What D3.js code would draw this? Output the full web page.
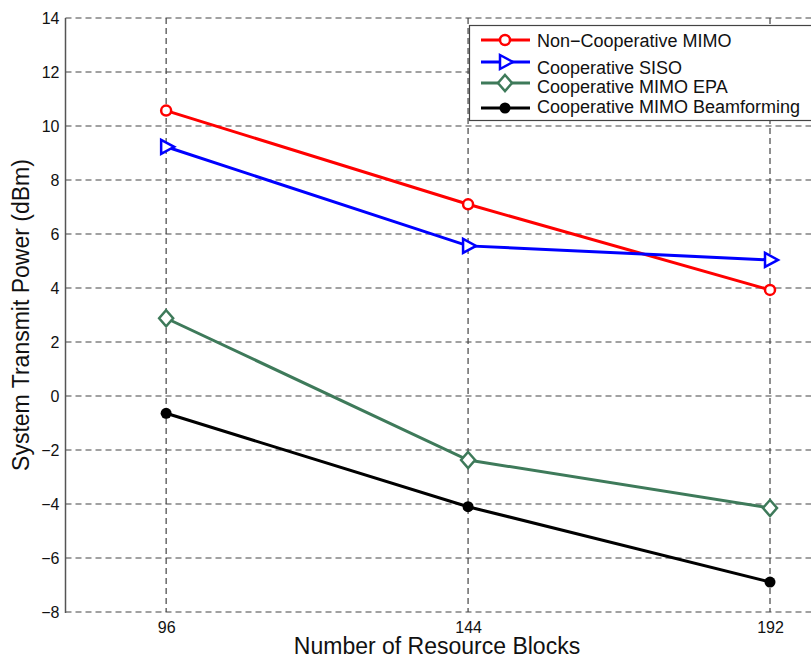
<!DOCTYPE html>
<html>
<head>
<meta charset="utf-8">
<script src="https://cdn.jsdelivr.net/npm/d3@7"></script>
<style>
  body { margin: 0; background: #fff; }
  svg { font-family: "Liberation Sans", Arial, sans-serif; }
</style>
</head>
<body>
<svg width="811" height="659"></svg>
<script>
var blocks = [96, 144, 192];
var nonCoopMimo = [10.57, 7.1, 3.93];
var coopSiso = [9.23, 5.56, 5.04];
var coopMimoEpa = [2.88, -2.37, -4.15];
var coopMimoBf = [-0.64, -4.1, -6.89];
var yTicks = [-8, -6, -4, -2, 0, 2, 4, 6, 8, 10, 12, 14];
var seriesNames = ["Non\u2212Cooperative MIMO", "Cooperative SISO", "Cooperative MIMO EPA", "Cooperative MIMO Beamforming"];

var drawChart = function() {
  var series = [
    {name: seriesNames[0], values: nonCoopMimo, color: "#ff0000", marker: "circle"},
    {name: seriesNames[1], values: coopSiso, color: "#0000ff", marker: "triangle"},
    {name: seriesNames[2], values: coopMimoEpa, color: "#3e7a5a", marker: "diamond"},
    {name: seriesNames[3], values: coopMimoBf, color: "#000000", marker: "dot"}
  ];

  var plotL = 65.5, plotR = 811, plotT = 18, plotB = 612;
  var svg = d3.select("svg");

  var x = d3.scaleLinear().domain([80, 192]).range([plotL, 770]);
  var y = d3.scaleLinear().domain([-8, 14]).range([plotB, plotT]);

  var gridColor = "#444";

  // horizontal grid
  svg.append("g").selectAll("line").data(yTicks).enter().append("line")
    .attr("x1", plotL).attr("x2", plotR)
    .attr("y1", function(d) { return y(d); })
    .attr("y2", function(d) { return y(d); })
    .attr("stroke", gridColor).attr("stroke-width", 1.2)
    .attr("stroke-dasharray", "6,4");

  // vertical grid
  svg.append("g").selectAll("line").data(blocks).enter().append("line")
    .attr("x1", function(d) { return x(d); })
    .attr("x2", function(d) { return x(d); })
    .attr("y1", plotT).attr("y2", plotB)
    .attr("stroke", gridColor).attr("stroke-width", 1.2)
    .attr("stroke-dasharray", "6,4");

  // left axis line
  svg.append("line")
    .attr("x1", plotL).attr("x2", plotL).attr("y1", plotT).attr("y2", plotB + 1)
    .attr("stroke", "#555").attr("stroke-width", 1.5);

  // y tick labels
  var yAxis = d3.axisLeft(y).tickValues(yTicks).tickSize(0).tickPadding(6);
  var gy = svg.append("g").attr("transform", "translate(" + plotL + ",0)").call(yAxis);
  gy.select(".domain").remove();
  gy.selectAll("text").attr("font-size", 16).attr("fill", "#111")
    .attr("font-family", "Liberation Sans, Arial, sans-serif");

  // x tick labels
  var xAxis = d3.axisBottom(x).tickValues(blocks).tickSize(0).tickPadding(10);
  var gx = svg.append("g").attr("transform", "translate(0," + plotB + ")").call(xAxis);
  gx.select(".domain").remove();
  gx.selectAll("text").attr("font-size", 16).attr("fill", "#111")
    .attr("font-family", "Liberation Sans, Arial, sans-serif");

  // axis labels
  svg.append("text").attr("x", 437).attr("y", 654)
    .attr("text-anchor", "middle").attr("font-size", 23).attr("fill", "#111")
    .text("Number of Resource Blocks");
  svg.append("text")
    .attr("transform", "translate(29,315) rotate(-90)")
    .attr("text-anchor", "middle").attr("font-size", 23).attr("fill", "#111")
    .text("System Transmit Power (dBm)");

  var drawMarker = function(g, type, color) {
    if (type === "circle") {
      g.append("circle").attr("r", 5).attr("fill", "#fff")
        .attr("stroke", color).attr("stroke-width", 2.5);
    } else if (type === "triangle") {
      g.append("path").attr("d", "M-5,-7L8,0L-5,7Z").attr("fill", "#fff")
        .attr("stroke", color).attr("stroke-width", 2.5);
    } else if (type === "diamond") {
      g.append("path").attr("d", "M0,-8L7,0L0,8L-7,0Z").attr("fill", "#fff")
        .attr("stroke", color).attr("stroke-width", 2.5);
    } else {
      g.append("circle").attr("r", 5.5).attr("fill", color).attr("stroke", "none");
    }
  };

  var line = d3.line()
    .x(function(d, i) { return x(blocks[i]); })
    .y(function(d) { return y(d); });

  series.forEach(function(s) {
    svg.append("path").datum(s.values)
      .attr("d", line).attr("fill", "none")
      .attr("stroke", s.color).attr("stroke-width", 3);
    s.values.forEach(function(v, i) {
      var g = svg.append("g").attr("transform", "translate(" + x(blocks[i]) + "," + y(v) + ")");
      drawMarker(g, s.marker, s.color);
    });
  });

  // legend
  var legend = svg.append("g");
  legend.append("rect")
    .attr("x", 469.5).attr("y", 25.5).attr("width", 360).attr("height", 95)
    .attr("fill", "#fff").attr("stroke", "#444").attr("stroke-width", 1.2);
  var lineYs = [40, 62, 83, 108];
  var textYs = [41, 68, 87, 107];
  series.forEach(function(s, i) {
    legend.append("line")
      .attr("x1", 481).attr("x2", 530).attr("y1", lineYs[i]).attr("y2", lineYs[i])
      .attr("stroke", s.color).attr("stroke-width", 3);
    var g = legend.append("g").attr("transform", "translate(505," + lineYs[i] + ")");
    drawMarker(g, s.marker, s.color);
    legend.append("text").attr("x", 537).attr("y", textYs[i])
      .attr("dy", "0.35em").attr("font-size", 18).attr("fill", "#111")
      .text(s.name);
  });
};

drawChart();
</script>
</body>
</html>
